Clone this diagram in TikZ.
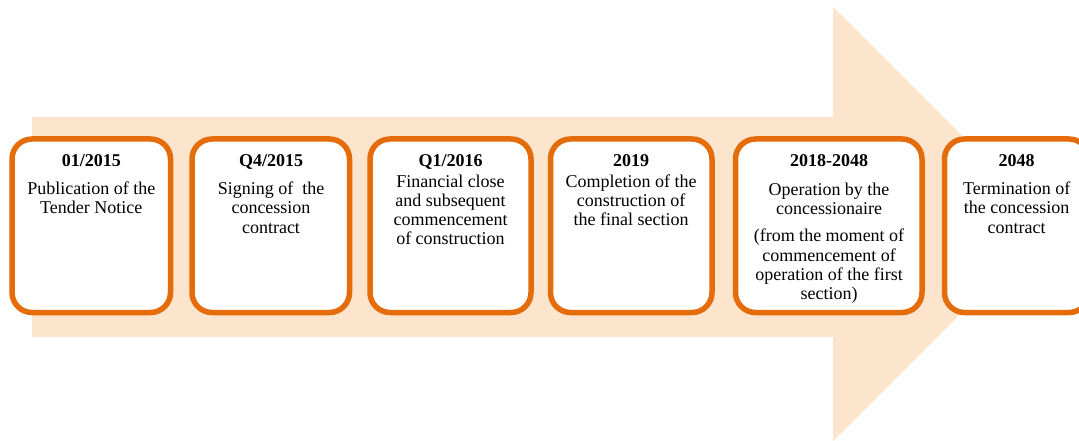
\documentclass[tikz,border=0pt]{standalone}
\usepackage{fontspec}
\setmainfont{Liberation Serif}
\definecolor{peach}{HTML}{FDE4CC}
\definecolor{orng}{HTML}{E46C0A}
\begin{document}
\begin{tikzpicture}[x=1pt,y=-1pt,
  box/.style={draw=orng, line width=5.5pt, fill=white, rounded corners=20pt},
  yr/.style={font=\fontsize{18}{19.3}\selectfont\bfseries, inner sep=0pt, anchor=base},
  desc/.style={align=center, font=\fontsize{18}{19.3}\selectfont, inner sep=0pt, anchor=north}]
\useasboundingbox (0,0) rectangle (1079,441);
\clip (0,0) rectangle (1079,441);
\fill[peach] (32,117) -- (833,117) -- (833,7) -- (1050,224) -- (833,441) -- (833,337) -- (32,337) -- cycle;
% boxes
\draw[box] (12,139) rectangle (170.5,312.5) coordinate (b1);
\draw[box] (192,139) rectangle (349.5,312.5) coordinate (b2);
\draw[box] (370,139) rectangle (531,312.5) coordinate (b3);
\draw[box] (550.5,139) rectangle (712,312.5) coordinate (b4);
\draw[box] (735.5,139) rectangle (922,312.5) coordinate (b5);
\draw[box] (944.5,139) rectangle (1089,312.5) coordinate (b6);
% texts
\node[yr] (y1) at (91.25,167) {01/2015};
\node[desc] (t1) at (91.25,181.7) {Publication of the\\Tender Notice};
\node[yr] (y2) at (271,167) {Q4/2015};
\node[desc] (t2) at (271,181.7) {Signing of \ the\\concession\\contract};
\node[yr] (y3) at (450.5,167) {Q1/2016};
\node[desc] (t3) at (450.5,174.4) {Financial close\\and subsequent\\commencement\\of construction};
\node[yr] (y4) at (631,167) {2019};
\node[desc] (t4) at (631,174.4) {Completion of the\\construction of\\the final section};
\node[yr] (y5) at (829,167) {2018-2048};
\node[desc] (t5) at (829,182.5) {Operation by the\\concessionaire\\[8pt](from the moment of\\commencement of\\operation of the first\\section)};
\node[yr] (y6) at (1016.7,167) {2048};
\node[desc] (t6) at (1016.7,181.7) {Termination of\\the concession\\contract};
\end{tikzpicture}
\end{document}
